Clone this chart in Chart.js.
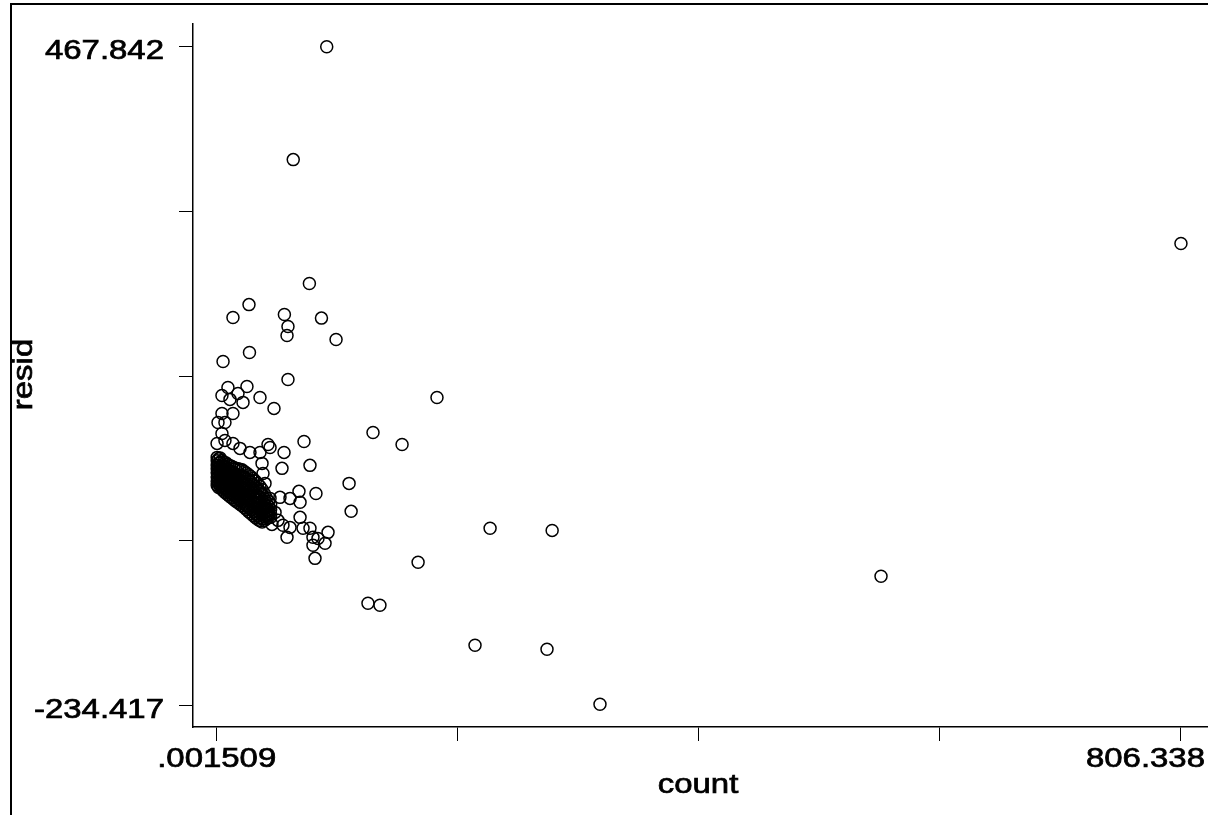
<!DOCTYPE html>
<html>
<head>
<meta charset="utf-8">
<script src="https://cdn.jsdelivr.net/npm/chart.js@4/dist/chart.umd.min.js"></script>
<style>
  body { margin: 0; background: #fff; }
  canvas { display: block; }
</style>
</head>
<body>
<canvas id="grafico" width="1208" height="815"></canvas>
<script>
// valores (count x resid)
const countSolto = [92.0, 64.0, 806.3, 77.5, 27.0, 13.6, 56.6, 87.6, 59.6, 58.8, 99.8, 27.4, 5.3, 59.6,
    184.2, 130.7, 155.0, 110.7, 112.4, 228.6, 280.5, 168.4, 555.5, 126.5, 136.5, 216.0, 276.2, 320.5,
    9.4, 25.3, 17.8, 4.4, 36.2, 11.1, 22.0, 47.9, 13.6, 4.4, 1.1, 6.9, 73.0, 4.4, 6.9, 0.3, 13.6, 42.9,
    19.5, 27.8, 36.2, 44.6, 56.3, 78.0, 54.6, 37.9, 38.7, 40.4, 30.4, 68.8, 83.0, 61.3, 52.9, 44.6,
    69.7, 69.7, 48.8, 51.3, 61.3, 55.4, 72.2, 78.0, 93.1, 58.8, 46.2, 80.5, 84.7, 90.6, 80.5, 82.2,
    42.9, 37.9];
const residSolto = [467.8, 347.5, 258.1, 215.5, 193.0, 179.3, 182.4, 178.6, 169.7, 160.1, 155.8, 141.9, 132.4, 113.2,
    94.1, 56.8, 44.0, 2.5, -27.3, -45.4, -47.6, -81.6, -96.5, -125.3, -127.4, -170.0, -174.3, -232.8,
    104.7, 105.8, 98.3, 96.2, 94.1, 92.0, 88.8, 82.4, 77.0, 77.0, 67.4, 67.4, 47.2, 55.7, 48.3, 45.1, 45.1, 44.0,
    39.8, 35.5, 35.5, 40.8, 35.5, 21.7, 18.5, 23.8, 13.1, 2.5, 5.7, -6.0, -8.2, -13.5, -12.4, -13.5,
    -17.7, -33.7, -28.4, -36.9, -44.4, -42.2, -45.4, -45.4, -49.7, -55.0, -41.2, -55.0, -56.1, -61.4, -63.5, -77.4,
    -31.6, -26.3];

// faixa densa perto de count = 0 (uma coluna de resíduos para cada count)
const countFaixa = [0.4, 1.6, 2.9, 4.3, 5.8, 7.4, 9.1, 10.7, 12.4, 14.2, 15.9, 17.6, 19.4,
    21.2, 23.0, 24.8, 26.7, 28.5, 30.4, 32.3, 34.2, 36.1, 38.0, 39.8, 41.5, 43.3, 45.1];
const residFaixa = [
    [30.2, 26.5, 21.8, 18.1, 13.7, 9.4, 4.9, 0.6],
    [28.7, 24.0, 19.6, 15.2, 11.0, 6.3, 2.2, -1.9],
    [29.5, 25.1, 20.8, 16.4, 12.5, 7.8, 3.6, -0.9],
    [26.9, 22.2, 17.9, 13.1, 8.6, 4.4, 0.1, -3.8],
    [25.3, 20.7, 16.2, 11.8, 7.0, 2.7, -1.8, -5.9],
    [24.6, 19.2, 14.9, 10.3, 5.5, 1.2, -3.4, -7.6],
    [22.8, 17.6, 13.4, 8.7, 4.1, -0.5, -5.2, -9.3],
    [21.4, 16.0, 11.6, 7.2, 2.4, -2.3, -6.9, -11.2],
    [20.8, 15.5, 10.1, 5.6, 0.9, -4.0, -8.3, -12.9],
    [19.3, 14.0, 8.4, 3.9, -0.8, -5.6, -10.1, -14.7],
    [18.7, 12.3, 6.8, 2.2, -2.6, -7.4, -11.8, -16.4],
    [18.1, 11.9, 6.1, 0.4, -4.3, -9.0, -13.5, -17.9],
    [17.6, 11.2, 5.5, -0.3, -6.1, -10.7, -15.2, -19.6],
    [16.9, 10.6, 4.8, -1.0, -6.9, -12.5, -16.8, -21.4],
    [15.2, 9.9, 3.1, -2.8, -8.6, -14.3, -18.6, -23.3],
    [13.5, 7.2, 1.7, -4.5, -10.4, -16.0, -21.1, -25.2],
    [11.7, 5.4, -0.5, -6.3, -12.2, -17.9, -23.0, -27.6],
    [9.8, 3.6, -2.4, -8.2, -14.1, -19.7, -25.3, -29.5],
    [7.6, 1.5, -4.4, -10.3, -16.2, -21.8, -27.2, -31.8],
    [5.1, -0.9, -6.8, -12.6, -18.5, -24.1, -29.6, -33.9],
    [2.4, -3.1, -9.9, -15.6, -21.3, -26.7, -31.5, -35.8],
    [-0.5, -6.0, -12.6, -18.2, -23.8, -28.9, -33.7, -37.4],
    [-4.1, -9.5, -15.9, -21.4, -26.4, -30.8, -35.2, -38.6],
    [-8.2, -13.6, -19.2, -24.1, -28.3, -32.9, -37.0],
    [-12.8, -17.9, -23.4, -27.7, -31.6, -35.3],
    [-16.5, -21.8, -26.9, -30.4, -34.2],
    [-20.3, -25.4, -29.8, -33.6]
];

// eixos
const xTicks = [0.001509, 201.585, 403.170, 604.754, 806.338];
const yTicks = [-234.417, -58.852, 116.712, 292.277, 467.842];
const xRotulos = ['.001509', '', '', '', '806.338'];
const yRotulos = ['-234.417', '', '', '', '467.842'];
const xMin = -19.82, xMax = 828.08;
const yMin = -257.09, yMax = 492.0;

let pontos = [];
for (let i = 0; i < countFaixa.length; i++) {
    residFaixa[i].forEach(r => pontos.push({ x: countFaixa[i], y: r }));
}
for (let i = 0; i < countSolto.length; i++) {
    pontos.push({ x: countSolto[i], y: residSolto[i] });
}

const fonte = '27px "Liberation Sans", Arial, sans-serif';
const esticar = 1.22;

function textoLargo(ctx, texto, x, y, alinhar, girar) {
    ctx.save();
    ctx.translate(x, y);
    if (girar) ctx.rotate(-Math.PI / 2);
    ctx.scale(esticar, 1);
    ctx.font = fonte;
    ctx.fillStyle = '#000';
    ctx.strokeStyle = '#000';
    ctx.lineWidth = 0.7;
    ctx.textAlign = alinhar;
    ctx.textBaseline = 'alphabetic';
    ctx.fillText(texto, 0, 0);
    ctx.strokeText(texto, 0, 0);
    ctx.restore();
}

// desenha moldura, rótulos dos ticks e títulos dos eixos
const pluginTextos = {
    id: 'textos',
    afterDraw(chart) {
        const ctx = chart.ctx;
        const area = chart.chartArea;
        const sx = chart.scales.x, sy = chart.scales.y;

        ctx.save();
        ctx.fillStyle = '#000';
        ctx.fillRect(10, 3, 2, 812);
        ctx.fillRect(10, 3, 1198, 2);
        ctx.restore();

        ctx.font = fonte;
        yTicks.forEach((v, i) => {
            if (!yRotulos[i]) return;
            textoLargo(ctx, yRotulos[i], 164, sy.getPixelForValue(v) + 12.7, 'right', false);
        });
        xTicks.forEach((v, i) => {
            if (!xRotulos[i]) return;
            const px = sx.getPixelForValue(v);
            const w = ctx.measureText(xRotulos[i]).width * esticar;
            if (px + w / 2 > chart.width - 3) {
                textoLargo(ctx, xRotulos[i], chart.width - 3, 767, 'right', false);
            } else {
                textoLargo(ctx, xRotulos[i], px, 767, 'center', false);
            }
        });
        textoLargo(ctx, 'count', (area.left + area.right) / 2 - 2, 793, 'center', false);
        textoLargo(ctx, 'resid', 32, (area.top + area.bottom) / 2 - 1, 'center', true);
    }
};

const grade = {
    drawOnChartArea: false,
    drawTicks: true,
    tickLength: 14,
    color: '#000',
    lineWidth: 1
};

new Chart(document.getElementById('grafico'), {
    type: 'scatter',
    data: {
        datasets: [{
            data: pontos,
            pointStyle: 'circle',
            pointRadius: 6,
            pointBorderWidth: 1.5,
            pointBorderColor: '#000',
            pointBackgroundColor: 'rgba(0,0,0,0)',
            showLine: false
        }]
    },
    options: {
        responsive: false,
        animation: false,
        events: [],
        layout: { autoPadding: false, padding: { top: 24, right: 1, left: 0, bottom: 0 } },
        plugins: { legend: { display: false }, tooltip: { enabled: false } },
        scales: {
            x: {
                type: 'linear',
                min: xMin,
                max: xMax,
                afterBuildTicks: s => { s.ticks = xTicks.map(v => ({ value: v })); },
                afterFit: s => { s.height = 88; },
                ticks: { display: false },
                grid: grade,
                border: { display: true, color: '#000', width: 1.5 }
            },
            y: {
                type: 'linear',
                min: yMin,
                max: yMax,
                afterBuildTicks: s => { s.ticks = yTicks.map(v => ({ value: v })); },
                afterFit: s => { s.width = 193; },
                ticks: { display: false },
                grid: grade,
                border: { display: true, color: '#000', width: 1.5 }
            }
        }
    },
    plugins: [pluginTextos]
});
</script>
</body>
</html>
